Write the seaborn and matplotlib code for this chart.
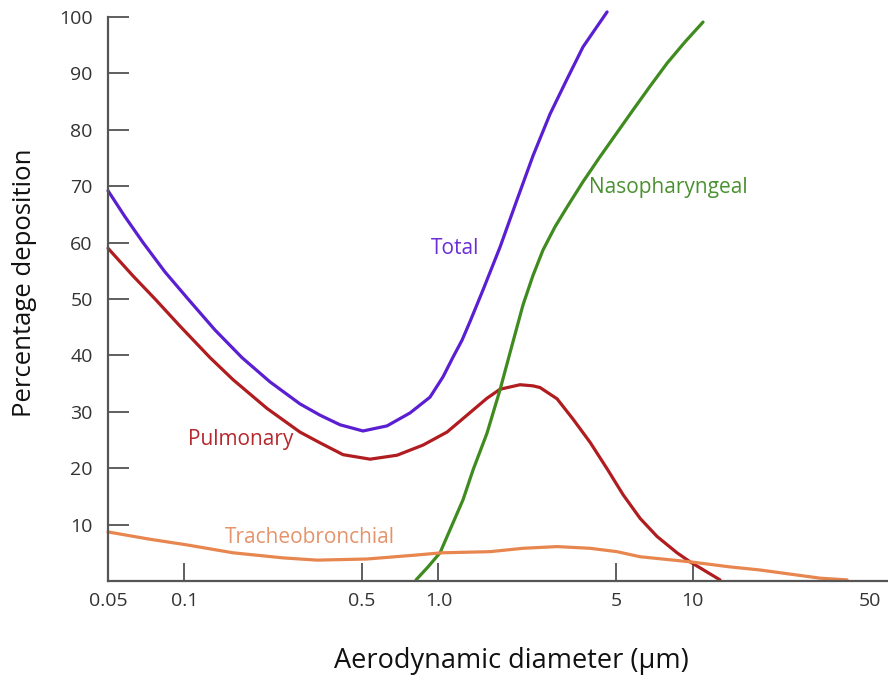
import numpy as np
import pandas as pd
import matplotlib
matplotlib.use("Agg")
import matplotlib.pyplot as plt
import seaborn as sns

# Значения (диаметр в мкм, осаждение в %)
total_x = [0.05, 0.0583, 0.0687, 0.0838, 0.1033, 0.1319, 0.1685, 0.2172, 0.285,
           0.3417, 0.4095, 0.5045, 0.627, 0.7727, 0.926, 1.042, 1.141, 1.238,
           1.331, 1.497, 1.747, 2.038, 2.356, 2.749, 3.207, 3.707, 4.61]
total_y = [69.2, 64.6, 60.0, 54.8, 50.0, 44.5, 39.6, 35.3, 31.4,
           29.4, 27.7, 26.6, 27.5, 29.8, 32.6, 36.2, 39.7, 42.7,
           46.0, 51.6, 59.2, 67.6, 75.4, 82.8, 89.0, 94.7, 100.9]

pulm_x = [0.05, 0.0627, 0.0766, 0.0960, 0.1261, 0.1553, 0.2113, 0.285, 0.3417,
          0.4210, 0.5377, 0.6867, 0.8693, 1.080, 1.295, 1.552, 1.747, 2.094,
          2.356, 2.511, 2.93, 3.386, 3.95, 4.61, 5.33, 6.22, 7.25, 8.69, 9.78,
          12.83]
pulm_y = [59.0, 54.1, 50.0, 45.2, 39.6, 35.7, 30.6, 26.4, 24.5,
          22.4, 21.6, 22.3, 24.1, 26.4, 29.4, 32.4, 34.0, 34.8,
          34.6, 34.3, 32.3, 28.7, 24.6, 19.9, 15.3, 11.1, 7.9, 5.0, 3.4,
          0.2]

naso_x = [0.816, 0.9095, 1.014, 1.249, 1.368, 1.552, 1.747, 1.913, 2.153, 2.356,
          2.58, 2.876, 3.207, 3.707, 4.32, 5.045, 5.83, 6.80, 7.94, 9.35, 11.0]
naso_y = [0.2, 2.5, 5.0, 14.4, 19.7, 26.2, 33.9, 40.5, 49.0, 54.2,
          58.7, 62.8, 66.3, 70.8, 75.2, 79.5, 83.5, 87.7, 91.8, 95.6, 99.1]

trach_x = [0.05, 0.0732, 0.1023, 0.1553, 0.2443, 0.3325, 0.523, 0.816, 1.03,
           1.595, 2.153, 2.93, 3.95, 5.045, 6.22, 9.78, 14.05, 18.45, 31.8, 40.6]
trach_y = [8.7, 7.4, 6.4, 5.0, 4.1, 3.7, 3.9, 4.6, 5.0,
           5.2, 5.8, 6.1, 5.8, 5.2, 4.3, 3.4, 2.5, 1.95, 0.5, 0.2]

tick_vals = [0.05, 0.1, 0.5, 1, 5, 10, 50]
tick_labels = ["0.05", "0.1", "0.5", "1.0", "5", "10", "50"]
y_ticks = [10, 20, 30, 40, 50, 60, 70, 80, 90, 100]

sns.set_theme(style="ticks")
plt.rcParams["font.family"] = ["Open Sans", "DejaVu Sans"]

fig = plt.figure(figsize=(8.88, 6.77), dpi=100)
ax = fig.add_axes([108 / 888, 96 / 677, 779 / 888, 564 / 677])

lw = 2.3
sns.lineplot(x=total_x, y=total_y, ax=ax, color="#5b1fd2", lw=lw, clip_on=False)
sns.lineplot(x=pulm_x, y=pulm_y, ax=ax, color="#b01c1f", lw=lw, clip_on=False)
sns.lineplot(x=naso_x, y=naso_y, ax=ax, color="#3f8b1f", lw=lw, clip_on=False)
sns.lineplot(x=trach_x, y=trach_y, ax=ax, color="#e8864f", lw=lw, clip_on=False)

ax.set_xscale("log")
ax.set_xlim(0.05, 58.3)
ax.set_ylim(0, 100)
ax.set_xticks(tick_vals)
ax.set_xticklabels(tick_labels)
ax.minorticks_off()
ax.set_yticks(y_ticks)

ax.tick_params(axis="x", direction="in", length=13, width=1.2, color="#444444",
               labelsize=14, labelcolor="#333333", pad=8)
ax.tick_params(axis="y", direction="in", length=15, width=1.2, color="#444444",
               labelsize=14, labelcolor="#333333", pad=11)
# у 50 нет штриха, только подпись
ax.xaxis.get_major_ticks()[-1].tick1line.set_visible(False)
for s in ["top", "right"]:
    ax.spines[s].set_visible(False)
for s in ["left", "bottom"]:
    ax.spines[s].set_color("#555555")
    ax.spines[s].set_linewidth(1.6)

# подписи кривых
ax.text(1.16, 59.0, "Total", color="#6a2fd4", fontsize=15, ha="center", va="center")
ax.text(8.0, 69.7, "Nasopharyngeal", color="#4a9130", fontsize=15, ha="center", va="center")
ax.text(0.167, 25.0, "Pulmonary", color="#b5282d", fontsize=15, ha="center", va="center")
ax.text(0.312, 7.8, "Tracheobronchial", color="#e4936a", fontsize=15, ha="center", va="center")

fig.text(511 / 888, 1 - 661 / 677, "Aerodynamic diameter (µm)", fontsize=19.5,
         color="#111111", ha="center", va="center")
fig.text(25 / 888, 1 - 283 / 677, "Percentage deposition", fontsize=18.5,
         color="#111111", ha="center", va="center", rotation=90)

plt.savefig("out.png", dpi=100, facecolor="white")
